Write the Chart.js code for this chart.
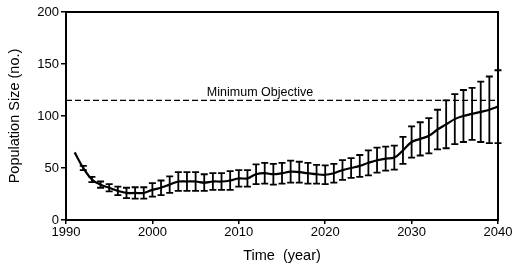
<!DOCTYPE html>
<html>
<head>
<meta charset="utf-8">
<script src="https://cdn.jsdelivr.net/npm/chart.js@4.4.1/dist/chart.umd.min.js"></script>
<style>
  html, body { margin: 0; padding: 0; background: #fff; }
  #wrap { width: 516px; height: 269px; }
</style>
</head>
<body>
<div id="wrap"><canvas id="chart" width="516" height="269"></canvas></div>
<script>
// ---- data ----
const years = [1991, 1992, 1993, 1994, 1995, 1996, 1997, 1998, 1999, 2000,
  2001, 2002, 2003, 2004, 2005, 2006, 2007, 2008, 2009, 2010,
  2011, 2012, 2013, 2014, 2015, 2016, 2017, 2018, 2019, 2020,
  2021, 2022, 2023, 2024, 2025, 2026, 2027, 2028, 2029, 2030,
  2031, 2032, 2033, 2034, 2035, 2036, 2037, 2038, 2039, 2040];
const meanPop = [65, 50, 39, 34, 31, 28, 26, 26, 26, 29,
  31, 34, 37, 37, 37, 36, 37, 37, 38, 40,
  40, 44, 45, 44, 45, 46.5, 46, 45, 44, 43.5,
  45, 48, 50, 52, 55, 57.5, 59, 60, 67, 75,
  78, 81, 87, 92, 97, 100, 102, 104, 106, 109];
const errPop = [0, 2, 2.5, 3, 3.5, 4, 5, 5.5, 5.5, 6.5,
  7, 8, 9, 9, 9, 8, 8, 8, 9, 8,
  8, 9.5, 10, 10, 10, 10.5, 10, 10, 9, 9,
  9, 9.5, 9.5, 10.5, 12, 12, 11.5, 11.5, 13, 15,
  16, 17, 19, 23, 24, 25, 25, 29, 32, 35];
const minObjective = 115;
const xTicks = [1990, 2000, 2010, 2020, 2030, 2040];
const yTicks = [0, 50, 100, 150, 200];

const FONT = '"Liberation Sans", Arial, Helvetica, sans-serif';

// error bars drawn through the chart's own scales
const errorBars = {
  id: 'errorBars',
  afterDatasetsDraw(chart) {
    const { ctx, scales: { x, y } } = chart;
    ctx.save();
    ctx.strokeStyle = '#000';
    ctx.lineWidth = 1.8;
    years.forEach((yr, i) => {
      if (!errPop[i]) return;
      const px = x.getPixelForValue(yr);
      const top = y.getPixelForValue(meanPop[i] + errPop[i]);
      const bot = y.getPixelForValue(meanPop[i] - errPop[i]);
      ctx.beginPath();
      ctx.moveTo(px, top); ctx.lineTo(px, bot);
      ctx.moveTo(px - 3.5, top); ctx.lineTo(px + 3.5, top);
      ctx.moveTo(px - 3.5, bot); ctx.lineTo(px + 3.5, bot);
      ctx.stroke();
    });
    ctx.restore();
  }
};

// dashed objective line + label + box frame
const extras = {
  id: 'extras',
  beforeDatasetsDraw(chart) {
    const { ctx, chartArea: a, scales: { y } } = chart;
    const py = y.getPixelForValue(minObjective);
    ctx.save();
    ctx.strokeStyle = '#000';
    ctx.lineWidth = 1.3;
    ctx.setLineDash([6, 3]);
    ctx.beginPath();
    ctx.moveTo(a.left, py); ctx.lineTo(a.right, py);
    ctx.stroke();
    ctx.setLineDash([]);
    ctx.fillStyle = '#000';
    ctx.font = '12.5px ' + FONT;
    ctx.textAlign = 'center';
    ctx.textBaseline = 'bottom';
    ctx.fillText('Minimum Objective', 260, py - 2);
    ctx.restore();
  },
  afterDraw(chart) {
    const { ctx, chartArea: a } = chart;
    ctx.save();
    ctx.strokeStyle = '#000';
    ctx.lineWidth = 2;
    ctx.strokeRect(a.left, a.top, a.right - a.left, a.bottom - a.top);
    ctx.restore();
  }
};

new Chart(document.getElementById('chart'), {
  type: 'line',
  data: {
    datasets: [{
      data: years.map((yr, i) => ({ x: yr, y: meanPop[i] })),
      borderColor: '#000',
      borderWidth: 2.2,
      pointRadius: 0,
      tension: 0.4,
      fill: false
    }]
  },
  options: {
    responsive: false,
    animation: false,
    layout: { padding: { top: 12, right: 18, left: 2, bottom: 0 } },
    plugins: { legend: { display: false }, tooltip: { enabled: false } },
    scales: {
      x: {
        type: 'linear',
        min: 1990, max: 2040,
        afterBuildTicks: (s) => { s.ticks = xTicks.map(v => ({ value: v })); },
        afterFit: (s) => { s.height = 49; },
        grid: { drawOnChartArea: false, tickLength: 4, color: '#000', lineWidth: 1.5 },
        border: { color: '#000', width: 2 },
        ticks: { color: '#000', font: { family: FONT, size: 13 }, padding: 1, maxRotation: 0,
                 callback: (v) => String(v) },
        title: { display: true, text: 'Time  (year)', color: '#000', font: { family: FONT, size: 14.5 }, padding: { top: 4 } }
      },
      y: {
        min: 0, max: 200,
        afterBuildTicks: (s) => { s.ticks = yTicks.map(v => ({ value: v })); },
        afterFit: (s) => { s.width = 64; },
        grid: { drawOnChartArea: false, tickLength: 5, color: '#000', lineWidth: 1.5 },
        border: { color: '#000', width: 2 },
        ticks: { color: '#000', font: { family: FONT, size: 13 }, padding: 2,
                 callback: (v) => String(v) },
        title: { display: true, text: 'Population Size (no.)', color: '#000', font: { family: FONT, size: 14.5 }, padding: { bottom: 2 } }
      }
    }
  },
  plugins: [extras, errorBars]
});
</script>
</body>
</html>
